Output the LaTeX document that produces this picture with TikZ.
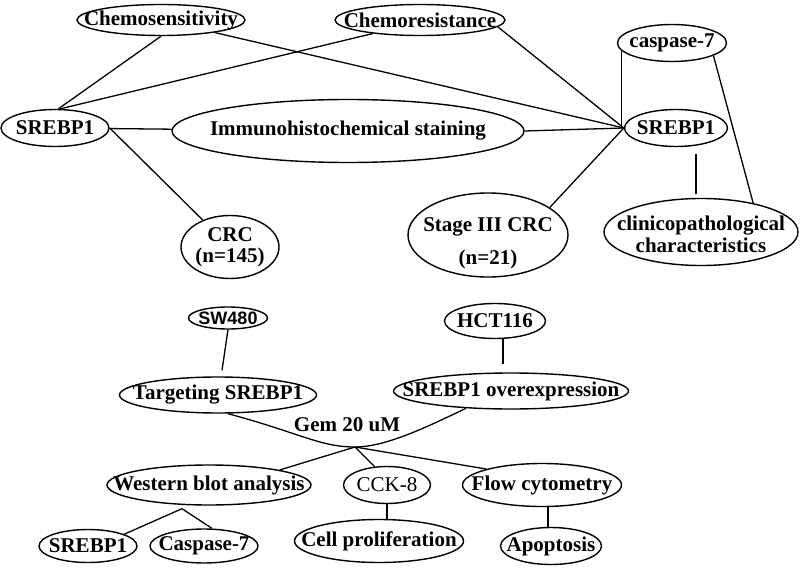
\documentclass[tikz,border=0pt]{standalone}
\usepackage{fontspec}
\setmainfont{Liberation Serif}
\newfontfamily\sansx{Liberation Sans}
\usetikzlibrary{shapes.geometric,calc}
\begin{document}
\begin{tikzpicture}[x=1pt,y=-1pt,
  ell/.style 2 args={draw, ellipse, inner sep=0pt, minimum width=#1pt, minimum height=#2pt, line width=1.4pt},
  txt/.style={font=\fontsize{21}{26}\selectfont\bfseries, align=center, inner sep=0pt},
  every label/.style={txt},
  link/.style={draw, line width=1.3pt}]
\path[use as bounding box, fill=white] (0,0) rectangle (800,569);

% ---------- top part ----------
\node[ell={168}{31}, label=center:Chemosensitivity] (cs) at (161,20) {};
\node[ell={170}{31}, label=center:Chemoresistance] (cr) at (420,20) {};
\node[ell={109}{37}, label=center:caspase-7] (c7) at (672,43) {};
\node[ell={108}{37}, label=center:SREBP1] (sl) at (55,128) {};
\node[ell={352}{63}, label=center:Immunohistochemical staining] (ihc) at (348,131) {};
\node[ell={103}{37}, label=center:SREBP1] (sr) at (676,128) {};
\node[ell={98}{63}, label={center:CRC\\[-5pt](n=145)}] (crc) at (230,247) {};
\node[ell={160}{84}, label={[yshift=-8pt]center:Stage III CRC\\[7pt](n=21)}] (s3) at (488,235) {};
\node[ell={194}{67}, label={[yshift=-2pt]center:clinicopathological\\[-4pt]characteristics}] (cp) at (701,232) {};

\draw[link] (sl.80) -- (cs.south);
\draw[link] (sl.75) -- (cr.-164);
\draw[link] (sl) -- (ihc);
\draw[link] (sl.east) -- (crc);
\draw[link] (cs) -- (sr.west);
\draw[link] (cr.-5) -- (sr.west);
\draw[link] (ihc.east) -- (sr.west);
\draw[link] (s3.24) -- (sr.west);
\draw[link] ($(sr.west)+(-2,0)$) -- ($(sr.west |- c7.-171)+(-2,0)$);
\draw[link] ($(sr.south)+(20,7)$) -- ($(cp.north)+(-5,-4)$);
\draw[link] (c7.-17) -- (cp.29);

% ---------- bottom part ----------
\node[ell={79}{22}, label={[font=\sansx\bfseries\fontsize{18}{20}\selectfont]center:SW480}] (sw) at (228,318) {};
\node[ell={101}{35}, label=center:HCT116] (hct) at (495,321) {};
\node[ell={197}{36}, label=center:Targeting SREBP1] (tg) at (218,395) {};
\node[ell={235}{36}, label=center:SREBP1 overexpression] (ov) at (511,391) {};
\node[txt] (gemtxt) at (347,425) {Gem 20 uM};
\coordinate (gem) at (355,447);
\node[ell={204}{40}, label=center:Western blot analysis] (wb) at (209,485) {};
\node[ell={87}{37}, label={[font=\fontsize{21}{26}\selectfont]center:CCK-8}] (cck) at (387,485) {};
\node[ell={159}{43}, label=center:Flow cytometry] (fc) at (542,485) {};
\node[ell={98}{33}, label=center:SREBP1] (sb) at (88,546) {};
\node[ell={108}{34}, label=center:Caspase-7] (c7b) at (204,546) {};
\node[ell={169}{43}, label=center:Cell proliferation] (cpl) at (379,541) {};
\node[ell={101}{37}, label=center:Apoptosis] (ap) at (551,546) {};

\draw[link] (sw.south) -- ($(tg.north)+(4,-6)$);
\draw[link] ($(hct.south)+(8,0)$) -- ($(ov.north)+(-8,-8)$);
\draw[link] ($(tg.south)+(10,0)$) .. controls (300,433) and (320,447) .. (gem)
   .. controls (385,447) and (425,428) .. (ov.-159);
\draw[link] (gem) -- (wb.12);
\draw[link] (gem) -- (cck.124);
\draw[link] (gem) -- (fc.164);
\coordinate (wbj) at ($(wb.south)+(-27,3)$);
\draw[link] (wbj) -- (sb.18);
\draw[link] (wbj) -- (c7b.65);
\draw[link] (cck.south) -- (cck.south |- cpl.north);
\draw[link] ($(fc.south)+(6,0)$) -- ($(ap.north)+(-3,0)$);
\end{tikzpicture}
\end{document}
